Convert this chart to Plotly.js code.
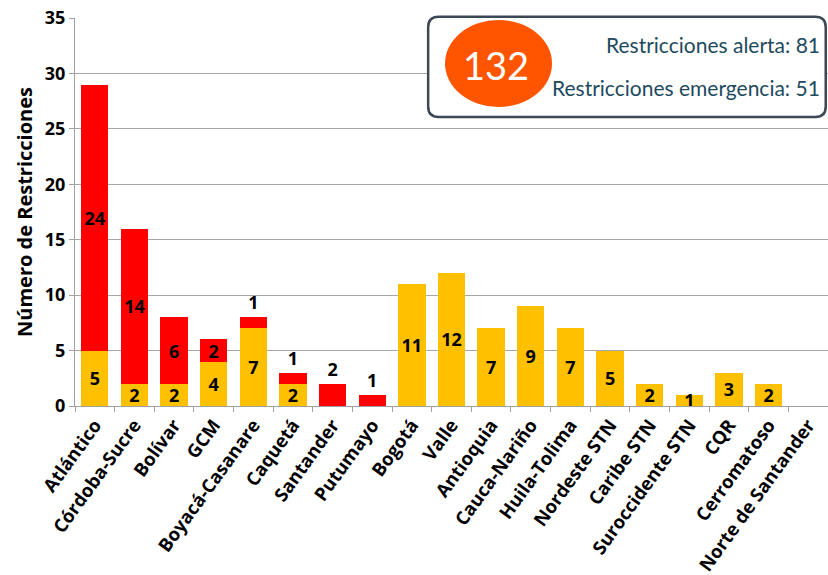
<!DOCTYPE html>
<html>
<head>
<meta charset="utf-8">
<script src="https://cdn.plot.ly/plotly-3.0.1.min.js"></script>
<style>html,body{margin:0;padding:0;background:#fff}#chart{width:828px;height:575px}</style>
</head>
<body>
<div id="chart"></div>
<script>
const categories = ["Atlántico","Córdoba-Sucre","Bolívar","GCM","Boyacá-Casanare","Caquetá","Santander","Putumayo","Bogotá","Valle","Antioquia","Cauca-Nariño","Huila-Tolima","Nordeste STN","Caribe STN","Suroccidente STN","CQR","Cerromatoso","Norte de Santander"];
const alerta =     [5,2,2,4,7,2,0,0,11,12,7,9,7,5,2,1,3,2,0];
const emergencia = [24,14,6,2,1,1,2,1,0,0,0,0,0,0,0,0,0,0,0];
const totalAlerta = 81;
const totalEmergencia = 51;
const total = 132;

const FONT = "Open Sans, sans-serif";
const BOXFONT = "Lato, sans-serif";
const lbl = v => v ? String(v) : "";

const traces = [
  {
    type: "bar", name: "Alerta", x: categories, y: alerta,
    marker: {color: "#FFC000"},
    text: alerta.map(lbl), textposition: "inside", insidetextanchor: "middle",
    textangle: 0, constraintext: "none",
    textfont: {family: FONT, size: 18, color: "#000", weight: "bold"},
    hoverinfo: "x+y"
  },
  {
    type: "bar", name: "Emergencia", x: categories, y: emergencia,
    marker: {color: "#FF0000"},
    text: emergencia.map(lbl),
    textposition: ["inside","inside","inside","inside","outside","outside","outside","outside","inside","inside","inside","inside","inside","inside","inside","inside","inside","inside","inside"],
    insidetextanchor: "middle", textangle: 0,
    constraintext: "none", cliponaxis: false,
    textfont: {family: FONT, size: 18, color: "#000", weight: "bold"},
    hoverinfo: "x+y"
  }
];

const x0 = 0.469, x1 = 0.997, y0 = 0.745, y1 = 1.003, rx = 0.014, ry = 0.027;
const boxPath = `M ${x0+rx} ${y1} L ${x1-rx} ${y1} Q ${x1} ${y1} ${x1} ${y1-ry} L ${x1} ${y0+ry} Q ${x1} ${y0} ${x1-rx} ${y0} L ${x0+rx} ${y0} Q ${x0} ${y0} ${x0} ${y0+ry} L ${x0} ${y1-ry} Q ${x0} ${y1} ${x0+rx} ${y1} Z`;

const layout = {
  width: 828, height: 575,
  margin: {l: 75, r: 0, t: 18, b: 169},
  barmode: "stack", bargap: 0.31,
  showlegend: false,
  paper_bgcolor: "#fff", plot_bgcolor: "#fff",
  font: {family: FONT, color: "#000"},
  xaxis: {
    type: "category", tickangle: -54,
    tickfont: {family: FONT, size: 18.5, color: "#000", weight: "bold"},
    showline: true, linecolor: "#a0a0a0", linewidth: 1,
    ticks: "outside", tickson: "boundaries", ticklen: 5, tickcolor: "#a0a0a0",
    showgrid: false
  },
  yaxis: {
    range: [0, 35], dtick: 5,
    tickfont: {family: FONT, size: 18, color: "#000", weight: "bold"},
    showline: true, linecolor: "#a0a0a0", linewidth: 1,
    ticks: "outside", ticklen: 5, tickcolor: "#a0a0a0",
    showgrid: true, gridcolor: "#a6a6a6", gridwidth: 1, zeroline: false,
    title: {text: "Número de Restricciones", font: {family: FONT, size: 20, color: "#000", weight: "bold"}, standoff: 6}
  },
  shapes: [
    {type: "path", xref: "paper", yref: "paper", path: boxPath,
     fillcolor: "#fff", line: {color: "#3b4754", width: 2.5}, layer: "above"},
    {type: "circle", xref: "paper", yref: "paper", x0: 0.4914, x1: 0.6335, y0: 0.7706, y1: 0.9948,
     fillcolor: "#FF5400", line: {width: 0}, layer: "above"}
  ],
  annotations: [
    {xref: "paper", yref: "paper", x: 0.559, y: 0.878, text: String(total), showarrow: false,
     font: {family: BOXFONT, size: 38, color: "#fff"}, xanchor: "center", yanchor: "middle"},
    {xref: "paper", yref: "paper", x: 0.992, y: 0.932, text: "Restricciones alerta: " + totalAlerta, showarrow: false,
     font: {family: BOXFONT, size: 21, color: "#1d4a5e"}, xanchor: "right", yanchor: "middle"},
    {xref: "paper", yref: "paper", x: 0.992, y: 0.822, text: "Restricciones emergencia: " + totalEmergencia, showarrow: false,
     font: {family: BOXFONT, size: 21, color: "#1d4a5e"}, xanchor: "right", yanchor: "middle"}
  ]
};

Plotly.newPlot("chart", traces, layout, {displayModeBar: false, staticPlot: true});
</script>
</body>
</html>
